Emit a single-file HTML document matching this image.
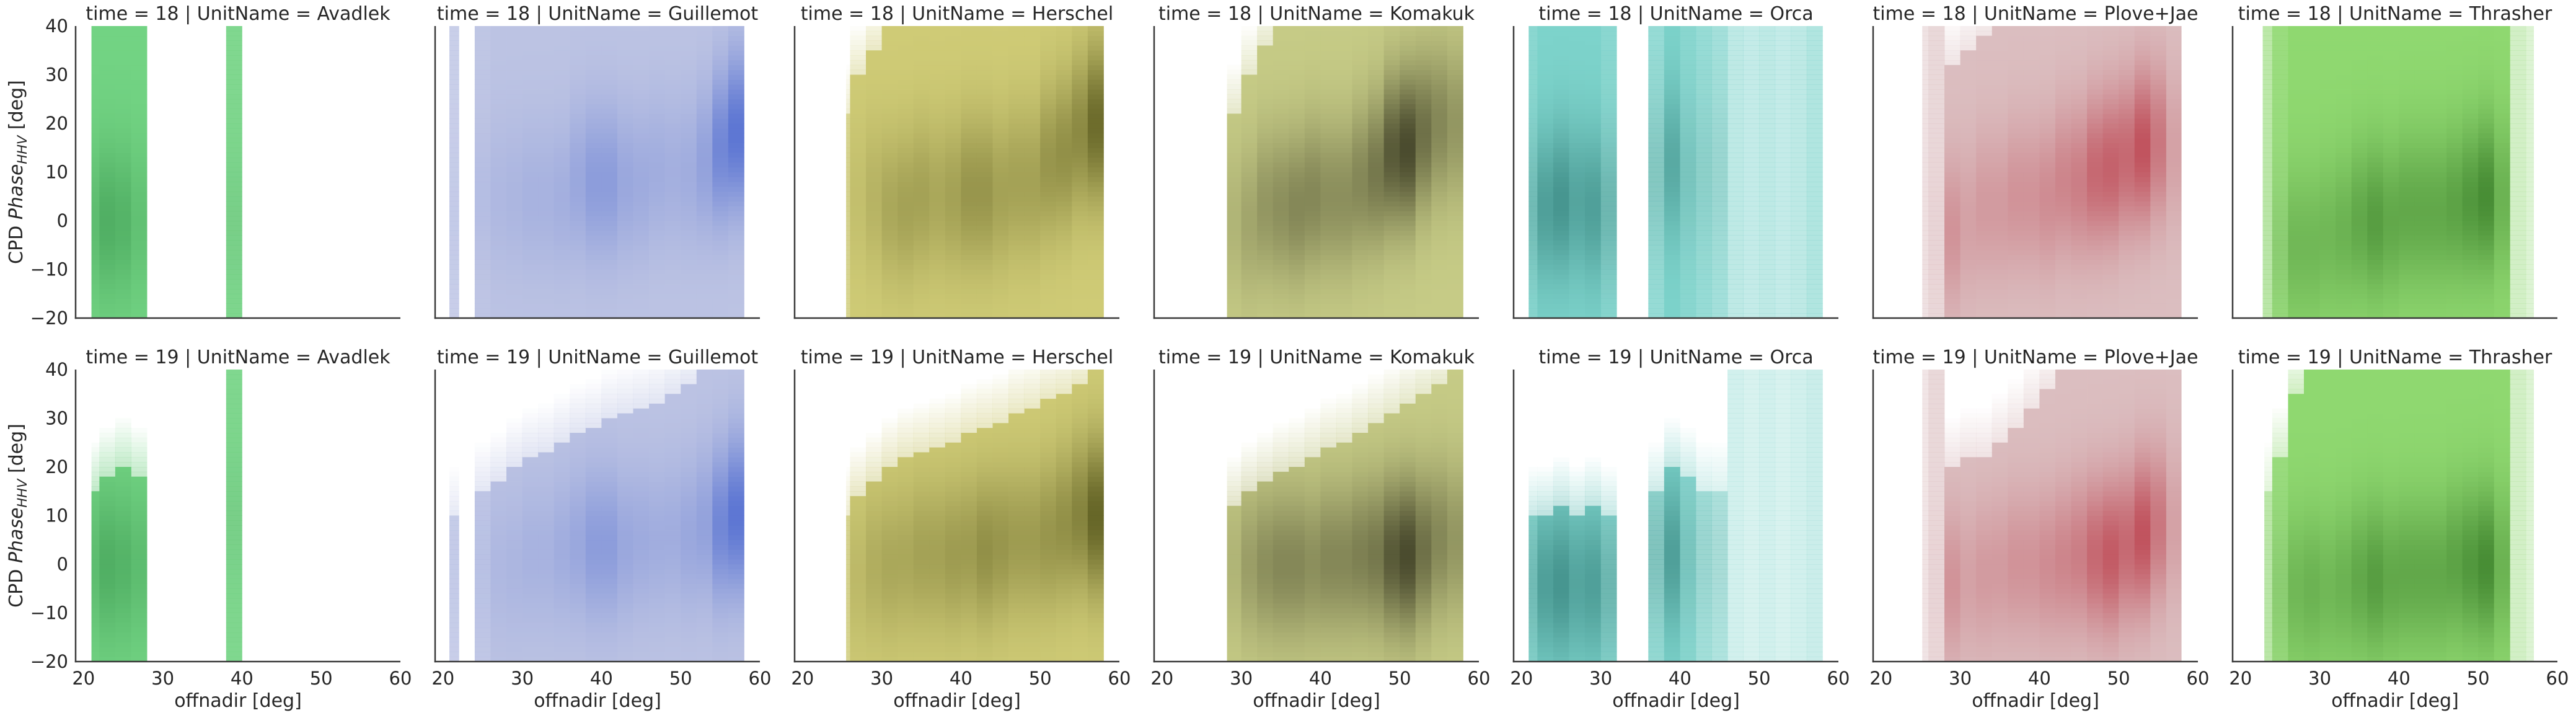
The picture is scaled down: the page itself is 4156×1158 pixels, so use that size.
<!DOCTYPE html>
<html><head><meta charset="utf-8"><title>CPD phase vs offnadir</title>
<style>
html,body{margin:0;padding:0;background:#fff;}
svg text{font-family:"DejaVu Sans","Liberation Sans",sans-serif;fill:#262626;}
</style></head>
<body>
<svg id="chart" xmlns="http://www.w3.org/2000/svg" width="4156" height="1153" viewBox="0 0 4156 1153"></svg>
<script>
// ---- data ----
const units = ["Avadlek","Guillemot","Herschel","Komakuk","Orca","Plove+Jae","Thrasher"];
const times = [18, 19];
const xTicks = [20, 30, 40, 50, 60];
const yTicks = [-20, -10, 0, 10, 20, 30, 40];
const lightColors = ["#72d383","#bcc3e3","#cfcb76","#c6cb86","#7dd3cb","#dbbec0","#8fd870"];
const darkColors  = ["#1f7a35","#3556cc","#55551a","#35351f","#236d68","#b8303e","#2a6e1c"];
// data ranges of offnadir per panel [row][col]
const xMin = [[21,20.8,25.5,28.2,20.9,25.2,22.8],[21,20.8,25.5,28.2,20.9,25.2,23]];
const xMax = [[40.3,58,58.2,58,58,57.9,57],[40.3,58,58.2,58,58,57.9,57]];
// per 2-deg bin (20..58): upper extent of dense fill (null = no data)
const binTop = [
 [
  [40,40,40,40,null,null,null,null,null,40,null,null,null,null,null,null,null,null,null,null],
  [40,null,40,40,40,40,40,40,40,40,40,40,40,40,40,40,40,40,40,null],
  [null,null,22,30,35,40,40,40,40,40,40,40,40,40,40,40,40,40,40,null],
  [null,null,null,null,22,30,36,40,40,40,40,40,40,40,40,40,40,40,40,null],
  [40,40,40,40,40,40,null,null,40,40,40,40,40,40,40,40,40,40,40,null],
  [null,null,40,40,32,35,38,40,40,40,40,40,40,40,40,40,40,40,40,null],
  [null,40,40,40,40,40,40,40,40,40,40,40,40,40,40,40,40,40,40,null]
 ],
 [
  [15,18,20,18,null,null,null,null,null,40,null,null,null,null,null,null,null,null,null,null],
  [10,null,15,17,20,22,23,25,27,28,30,31,32,33,35,37,40,40,40,null],
  [null,null,10,14,17,20,22,23,24,25,27,28,29,31,32,34,35,37,40,null],
  [null,null,null,null,12,15,17,19,20,22,24,25,27,29,31,33,35,37,40,null],
  [10,10,12,10,12,10,null,null,15,20,18,15,15,40,40,40,40,40,40,null],
  [null,null,40,40,20,22,22,25,28,32,36,40,40,40,40,40,40,40,40,null],
  [null,15,22,35,40,40,40,40,40,40,40,40,40,40,40,40,40,40,40,null]
 ]
];
// peak density (0..1) per bin
const binPeak = [
 [
  [.25,.4,.35,.2,0,0,0,0,0,.1,0,0,0,0,0,0,0,0,0,0],
  [.05,0,.08,.1,.12,.15,.15,.18,.25,.35,.35,.25,.22,.2,.18,.2,.3,.55,.7,0],
  [0,0,.05,.1,.2,.3,.35,.35,.3,.35,.45,.45,.35,.35,.35,.45,.5,.55,.8,0],
  [0,0,0,0,.15,.25,.35,.4,.45,.45,.4,.4,.45,.55,.75,.85,.6,.45,.35,0],
  [.3,.5,.6,.45,.5,.35,0,0,.25,.4,.2,.15,.15,0,0,0,0,0,0,0],
  [0,0,.05,.05,.3,.2,.25,.25,.3,.3,.35,.4,.45,.6,.65,.6,.75,.5,.2,0],
  [0,.05,.15,.3,.3,.3,.35,.45,.55,.45,.45,.45,.45,.5,.6,.7,.35,0,0,0]
 ],
 [
  [.25,.4,.35,.25,0,0,0,0,0,.1,0,0,0,0,0,0,0,0,0,0],
  [.05,0,.08,.1,.12,.15,.15,.2,.25,.35,.35,.25,.22,.2,.2,.25,.3,.55,.7,0],
  [0,0,.05,.15,.25,.3,.3,.35,.35,.4,.4,.5,.45,.4,.4,.45,.5,.6,.85,0],
  [0,0,0,0,.15,.3,.4,.45,.45,.4,.45,.45,.5,.55,.75,.85,.6,.45,.35,0],
  [.3,.5,.6,.45,.5,.35,0,0,.3,.5,.2,.15,.15,0,0,0,0,0,0,0],
  [0,0,.05,.05,.3,.2,.25,.25,.3,.3,.35,.4,.45,.6,.7,.6,.75,.5,.2,0],
  [0,.05,.15,.3,.35,.3,.35,.45,.55,.45,.45,.45,.45,.5,.6,.7,.35,0,0,0]
 ]
];
// y of density peak per bin
const binMode = [
 [
  [0,0,0,0,0,0,0,0,0,0,0,0,0,0,0,0,0,0,0,0],
  [0,0,5,5,5,5,5,5,8,8,8,8,8,10,10,10,12,15,18,0],
  [0,0,3,5,5,3,3,5,5,5,6,6,6,8,8,12,14,18,20,0],
  [0,0,0,0,0,0,3,3,3,5,5,5,8,10,14,15,18,20,20,0],
  [3,3,4,4,3,3,0,0,10,12,10,10,10,10,10,10,10,10,10,0],
  [0,0,-2,-2,-2,0,3,3,5,5,5,8,8,10,11,13,15,16,15,0],
  [0,-5,-5,-5,-5,-3,-2,0,0,0,2,2,2,3,4,5,5,5,5,0]
 ],
 [
  [0,0,0,0,0,0,0,0,0,10,0,0,0,0,0,0,0,0,0,0],
  [0,0,0,0,0,2,2,3,4,4,4,4,5,5,6,6,8,8,10,0],
  [0,0,-2,-2,0,0,1,2,2,2,3,3,4,5,5,6,8,10,10,0],
  [0,0,0,0,0,0,0,0,0,0,1,1,2,2,2,2,3,5,5,0],
  [-4,-4,-4,-4,-4,-4,0,0,2,2,2,2,2,2,2,2,2,2,2,0],
  [0,0,-4,-4,-4,-3,-2,-1,0,0,0,1,2,2,2,4,6,8,8,0],
  [0,-5,-5,-5,-5,-5,-4,-3,-3,-3,-2,-2,-2,0,0,0,0,0,0,0]
 ]
];
// fraction of bins filled (sparse columns look lighter)
const binCover = [
 [
  [1,1,1,1,1,1,1,1,1,.9,1,1,1,1,1,1,1,1,1,1],
  [.8,1,.95,1,1,1,1,1,1,1,1,1,1,1,1,1,1,1,1,1],
  [1,1,.8,1,1,1,1,1,1,1,1,1,1,1,1,1,1,1,1,1],
  [1,1,1,1,1,1,1,1,1,1,1,1,1,1,1,1,1,1,1,1],
  [.9,1,1,1,1,.9,1,1,.8,1,.9,.8,.7,.5,.45,.5,.45,.5,.6,1],
  [1,1,.45,.6,1,1,1,1,1,1,1,1,1,1,1,1,1,1,1,1],
  [1,.6,.9,1,1,1,1,1,1,1,1,1,1,1,1,1,1,.4,.3,1]
 ],
 [
  [1,1,1,1,1,1,1,1,1,.9,1,1,1,1,1,1,1,1,1,1],
  [.8,1,.9,1,1,1,1,1,1,1,1,1,1,1,1,1,1,1,1,1],
  [1,1,.8,1,1,1,1,1,1,1,1,1,1,1,1,1,1,1,1,1],
  [1,1,1,1,1,1,1,1,1,1,1,1,1,1,1,1,1,1,1,1],
  [.9,1,1,1,1,.9,1,1,.8,1,.9,.7,.6,.35,.3,.35,.3,.35,.4,1],
  [1,1,.4,.6,1,1,1,1,1,1,1,1,1,1,1,1,1,1,1,1],
  [1,.6,.9,1,1,1,1,1,1,1,1,1,1,1,1,1,1,.4,.3,1]
 ]
];

// ---- layout ----
const NS = "http://www.w3.org/2000/svg";
const svg = document.getElementById("chart");
const panelLeft0 = 122, panelPitch = 580, panelW = 524;
const rowTop = [42, 596], panelH = 471;
const xDomain = [19, 60], yDomain = [-20, 40];
function xScale(col, v){ return panelLeft0 + col*panelPitch + (v - xDomain[0])/(xDomain[1]-xDomain[0])*panelW; }
function yScale(row, v){ return rowTop[row] + panelH - (v - yDomain[0])/(yDomain[1]-yDomain[0])*panelH; }
function hex(c){ return [parseInt(c.slice(1,3),16),parseInt(c.slice(3,5),16),parseInt(c.slice(5,7),16)]; }
function mix(a,b,t){ const A=hex(a),B=hex(b); return "rgb("+A.map((v,i)=>Math.round(v+(B[i]-v)*t)).join(",")+")"; }
function mk(tag, attrs){ const e=document.createElementNS(NS,tag); for(const k in attrs) e.setAttribute(k,attrs[k]); return e; }

const sigma = 11;
for (let r = 0; r < times.length; r++) {
  for (let c = 0; c < units.length; c++) {
    const g = mk("g", {});
    
    
    svg.appendChild(g);
    const hg = mk("g", {});
    
    
    g.appendChild(hg);
    const tops = binTop[r][c], peaks = binPeak[r][c], modes = binMode[r][c], covers = binCover[r][c];
    for (let i = 0; i < tops.length; i++) {
      if (tops[i] === null) continue;
      const x0 = Math.max(xMin[r][c], 20 + 2*i), x1 = Math.min(xMax[r][c], 22 + 2*i);
      if (x1 <= x0) continue;
      const px0 = xScale(c, x0), px1 = xScale(c, x1);
      const yEnd = Math.min(40, tops[i] + 10);
      for (let y = -20; y < yEnd; y += 1) {
        const inside = y < tops[i];
        const t = Math.min(1, peaks[i] * Math.exp(-0.5*Math.pow((y + 0.5 - modes[i])/sigma, 2)));
        const op = inside ? covers[i] : covers[i] * 0.4 * (1 - (y - tops[i]) / 10);
        const rect = mk("rect", {
          x: px0.toFixed(2), y: yScale(r, y+1).toFixed(2),
          width: (px1 - px0 + 0.4).toFixed(2), height: (panelH/60 + 0.4).toFixed(2),
          fill: mix(lightColors[c], darkColors[c], t),
          "fill-opacity": op.toFixed(2)
        });
        
        
        hg.appendChild(rect);
      }
    }
    // spines
    const L = xScale(c, xDomain[0]), R = xScale(c, xDomain[1]);
    const T = yScale(r, yDomain[1]), B = yScale(r, yDomain[0]);
    const ls = mk("line", {x1:L, y1:T, x2:L, y2:B+1.2, stroke:"#3a3a3a", "stroke-width":2.5});
    
    
    g.appendChild(ls);
    const bs = mk("line", {x1:L-1.2, y1:B, x2:R, y2:B, stroke:"#3a3a3a", "stroke-width":2.5});
    
    
    g.appendChild(bs);
    // title
    const title = mk("text", {x:(L+R)/2, y:T-10, "text-anchor":"middle", "font-size":30});
    title.textContent = "time = " + times[r] + " | UnitName = " + units[c];
    
    
    g.appendChild(title);
    // y ticks on first column
    if (c === 0) {
      for (const v of yTicks) {
        const tl = mk("text", {x:L-12, y:yScale(r, v)+10, "text-anchor":"end", "font-size":29});
        tl.textContent = v < 0 ? "\u2212" + Math.abs(v) : String(v);
        
        
        g.appendChild(tl);
      }
      const yl = mk("text", {transform:"translate(36," + ((T+B)/2) + ") rotate(-90)", "text-anchor":"middle", "font-size":30});
      yl.innerHTML = 'CPD <tspan font-style="italic">Phase</tspan><tspan font-style="italic" font-size="21" dy="7">HHV</tspan><tspan dy="-7"> [deg]</tspan>';
      
      
      g.appendChild(yl);
    }
    // x ticks on bottom row
    if (r === times.length - 1) {
      for (const v of xTicks) {
        const tl = mk("text", {x:xScale(c, v), y:B+37, "text-anchor":"middle", "font-size":29});
        tl.textContent = String(v);
        
        
        g.appendChild(tl);
      }
      const xl = mk("text", {x:(L+R)/2, y:B+73, "text-anchor":"middle", "font-size":30});
      xl.textContent = "offnadir [deg]";
      
      
      g.appendChild(xl);
    }
  }
}
</script>
</body></html>
